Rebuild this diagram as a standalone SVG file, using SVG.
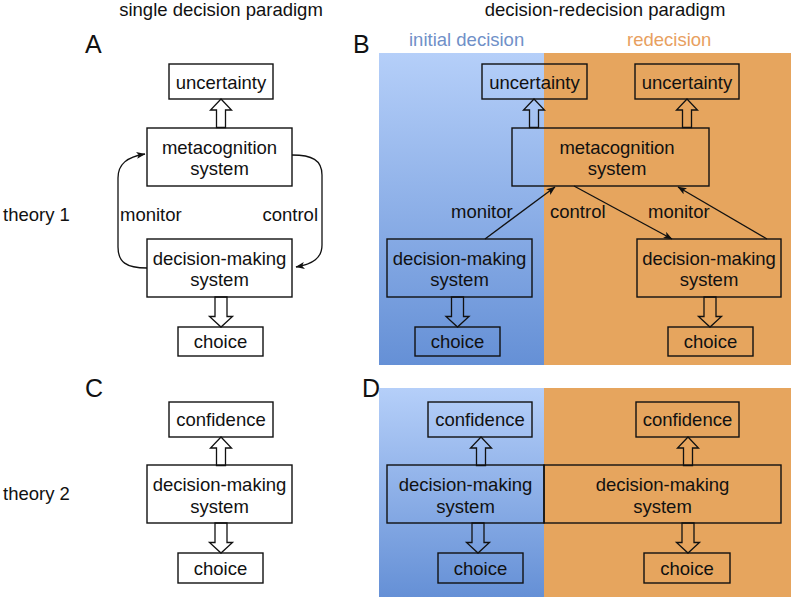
<svg xmlns="http://www.w3.org/2000/svg" width="793" height="600" viewBox="0 0 793 600">
<style>
text{font-family:"Liberation Sans",Arial,sans-serif;font-size:18.5px;fill:#111;}
.c{text-anchor:middle;}
.big{font-size:25px;}
.box{fill:none;stroke:#111;stroke-width:1.4;}
.ha{fill:none;stroke:#111;stroke-width:1.3;}
.ln{fill:none;stroke:#111;stroke-width:1.3;marker-end:url(#ah);}
</style>
<defs>
<linearGradient id="blue" x1="0" y1="0" x2="0" y2="1">
<stop offset="0" stop-color="#b5cff9"/>
<stop offset="1" stop-color="#6590d6"/>
</linearGradient>
<marker id="ah" markerWidth="9" markerHeight="7" refX="8.5" refY="3.5" orient="auto" markerUnits="userSpaceOnUse">
<path d="M0,0 L9,3.5 L0,7 L2.2,3.5 Z" fill="#111"/>
</marker>
<path id="up" class="ha" d="M-4.5,28.5 V11 H-10.5 L0,0 L10.5,11 H4.5 V28.5 Z"/>
<path id="down" class="ha" d="M-6,0 V19.5 H-11.5 L0,30 L11.5,19.5 H6 V0 Z"/>
</defs>

<!-- headings -->
<text class="c" x="221" y="16">single decision paradigm</text>
<text class="c" x="605" y="16">decision-redecision paradigm</text>
<text x="3" y="221">theory 1</text>
<text x="3" y="500">theory 2</text>
<text class="big" x="85" y="53">A</text>
<text class="big" x="353" y="53">B</text>
<text class="big" x="85" y="397">C</text>
<text class="big" x="362" y="397">D</text>

<!-- backgrounds -->
<g id="bg-B">
<rect x="379" y="53" width="165" height="312" fill="url(#blue)"/>
<rect x="544" y="53" width="247" height="312" fill="#e6a55e"/>
<text x="409" y="46" style="fill:#7090c8">initial decision</text>
<text x="627" y="46" style="fill:#e8a060">redecision</text>
</g>
<g id="bg-D">
<rect x="379" y="388" width="165" height="209" fill="url(#blue)"/>
<rect x="544" y="388" width="247" height="209" fill="#e6a55e"/>
</g>

<!-- Panel A nodes -->
<g id="A-uncertainty"><rect class="box" x="169" y="64" width="104" height="35"/><text class="c" x="221" y="89">uncertainty</text></g>
<g id="A-meta"><rect class="box" x="147" y="128" width="145" height="58"/><text class="c" x="219.5" y="153.5">metacognition</text><text class="c" x="219.5" y="175">system</text></g>
<g id="A-dms"><rect class="box" x="147" y="239" width="145" height="58"/><text class="c" x="219.5" y="264.5">decision-making</text><text class="c" x="219.5" y="286">system</text></g>
<g id="A-choice"><rect class="box" x="178" y="327" width="85" height="29"/><text class="c" x="220.5" y="348">choice</text></g>

<!-- Panel B nodes -->
<g id="B-unc1"><rect class="box" x="482" y="64" width="105" height="35"/><text class="c" x="534.5" y="89">uncertainty</text></g>
<g id="B-unc2"><rect class="box" x="635" y="64" width="104" height="35"/><text class="c" x="687" y="89">uncertainty</text></g>
<g id="B-meta"><rect class="box" x="512" y="128" width="197" height="58"/><text class="c" x="617" y="153.5">metacognition</text><text class="c" x="617" y="175">system</text></g>
<g id="B-dms1"><rect class="box" x="387" y="239" width="145" height="58"/><text class="c" x="459.5" y="264.5">decision-making</text><text class="c" x="459.5" y="286">system</text></g>
<g id="B-dms2"><rect class="box" x="637" y="239" width="144" height="58"/><text class="c" x="709" y="264.5">decision-making</text><text class="c" x="709" y="286">system</text></g>
<g id="B-choice1"><rect class="box" x="415" y="327" width="85" height="29"/><text class="c" x="457.5" y="348">choice</text></g>
<g id="B-choice2"><rect class="box" x="668" y="327" width="85" height="29"/><text class="c" x="710.5" y="348">choice</text></g>

<!-- Panel C nodes -->
<g id="C-conf"><rect class="box" x="169" y="402" width="104" height="35"/><text class="c" x="221" y="426">confidence</text></g>
<g id="C-dms"><rect class="box" x="147" y="465" width="145" height="58"/><text class="c" x="219.5" y="491">decision-making</text><text class="c" x="219.5" y="512.5">system</text></g>
<g id="C-choice"><rect class="box" x="178" y="553" width="85" height="30"/><text class="c" x="220.5" y="574.5">choice</text></g>

<!-- Panel D nodes -->
<g id="D-conf1"><rect class="box" x="428" y="402" width="104" height="35"/><text class="c" x="480" y="426">confidence</text></g>
<g id="D-conf2"><rect class="box" x="636" y="402" width="103" height="35"/><text class="c" x="687.5" y="426">confidence</text></g>
<g id="D-dms1"><rect class="box" x="387" y="465" width="157" height="58"/><text class="c" x="465.5" y="491">decision-making</text><text class="c" x="465.5" y="512.5">system</text></g>
<g id="D-dms2"><rect class="box" x="544" y="465" width="237" height="58"/><text class="c" x="662.5" y="491">decision-making</text><text class="c" x="662.5" y="512.5">system</text></g>
<g id="D-choice1"><rect class="box" x="438" y="553" width="85" height="30"/><text class="c" x="480.5" y="574.5">choice</text></g>
<g id="D-choice2"><rect class="box" x="644" y="553" width="86" height="30"/><text class="c" x="687" y="574.5">choice</text></g>

<!-- connectors -->
<g id="connectors">
<use href="#up" x="221" y="99"/>
<use href="#down" x="221" y="297"/>
<path class="ln" d="M147,268 C126,268 118,262 118,247 L118,178 C118,164 127,157 145,154"/>
<path class="ln" d="M292,155 C312,155 322,160 322,175 L322,245 C322,258 313,264 296,267"/>
<text x="120" y="221">monitor</text>
<text x="318" y="221" style="text-anchor:end">control</text>

<use href="#up" x="534" y="99"/>
<use href="#up" x="687" y="99"/>
<use href="#down" x="457.5" y="297"/>
<use href="#down" x="710" y="297"/>
<path class="ln" d="M485,239 L555,187"/>
<path class="ln" d="M574,186 L672,239"/>
<path class="ln" d="M767,239 L678,187"/>
<text x="451" y="218">monitor</text>
<text x="550" y="218">control</text>
<text x="648" y="218">monitor</text>

<use href="#up" x="221" y="437"/>
<use href="#down" x="221" y="523"/>

<use href="#up" x="481" y="437"/>
<use href="#up" x="688" y="437"/>
<use href="#down" x="478" y="523"/>
<use href="#down" x="688" y="523"/>
</g>
</svg>
